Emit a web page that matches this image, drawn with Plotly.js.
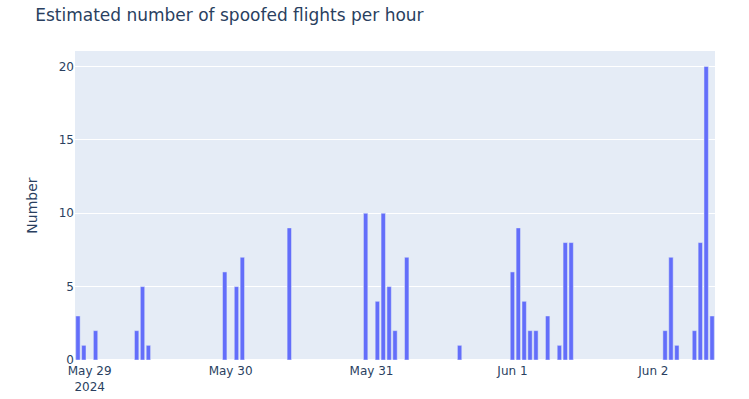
<!DOCTYPE html>
<html>
<head>
<meta charset="utf-8">
<script src="https://cdn.plot.ly/plotly-3.0.1.min.js"></script>
<style>html,body{margin:0;padding:0;background:#fff;}#chart{width:749px;height:399px;}</style>
</head>
<body>
<div id="chart"></div>
<script>
const hours = [
  "2024-05-28 22:00","2024-05-28 23:00","2024-05-29 01:00","2024-05-29 08:00","2024-05-29 09:00",
  "2024-05-29 10:00","2024-05-29 23:00","2024-05-30 01:00","2024-05-30 02:00","2024-05-30 10:00",
  "2024-05-30 23:00","2024-05-31 01:00","2024-05-31 02:00","2024-05-31 03:00","2024-05-31 04:00",
  "2024-05-31 06:00","2024-05-31 15:00","2024-06-01 00:00","2024-06-01 01:00","2024-06-01 02:00",
  "2024-06-01 03:00","2024-06-01 04:00","2024-06-01 06:00","2024-06-01 08:00","2024-06-01 09:00",
  "2024-06-01 10:00","2024-06-02 02:00","2024-06-02 03:00","2024-06-02 04:00","2024-06-02 07:00",
  "2024-06-02 08:00","2024-06-02 09:00","2024-06-02 10:00"
];
const counts = [
  3,1,2,2,5,
  1,6,5,7,9,
  10,4,10,5,2,
  7,1,6,9,4,
  2,2,3,1,8,
  8,2,7,1,2,
  8,20,3
];
const chartTitle = "Estimated number of spoofed flights per hour";
const yTitle = "Number";

Plotly.newPlot("chart", [{
  type: "bar",
  x: hours,
  y: counts,
  marker: {color: "#636efa", line: {color: "#E5ECF6", width: 0.5}}
}], {
  width: 749, height: 399,
  margin: {l: 75, r: 34, t: 51, b: 39},
  paper_bgcolor: "#fff",
  plot_bgcolor: "#E5ECF6",
  font: {family: "'DejaVu Sans', verdana, arial, sans-serif", size: 12, color: "#2a3f5f"},
  title: {text: chartTitle, x: 0.047, xanchor: "left", y: 0.962, yanchor: "middle", yref: "container", font: {size: 17, color: "#2a3f5f"}},
  bargap: 0.25,
  xaxis: {type: "date", gridcolor: "white", showgrid: false, zeroline: false, ticks: "", linecolor: "white"},
  yaxis: {title: {text: yTitle, font: {size: 14}}, gridcolor: "white", zerolinecolor: "white", zerolinewidth: 2, ticks: "", dtick: 5}
}, {displayModeBar: false});
</script>
</body>
</html>
